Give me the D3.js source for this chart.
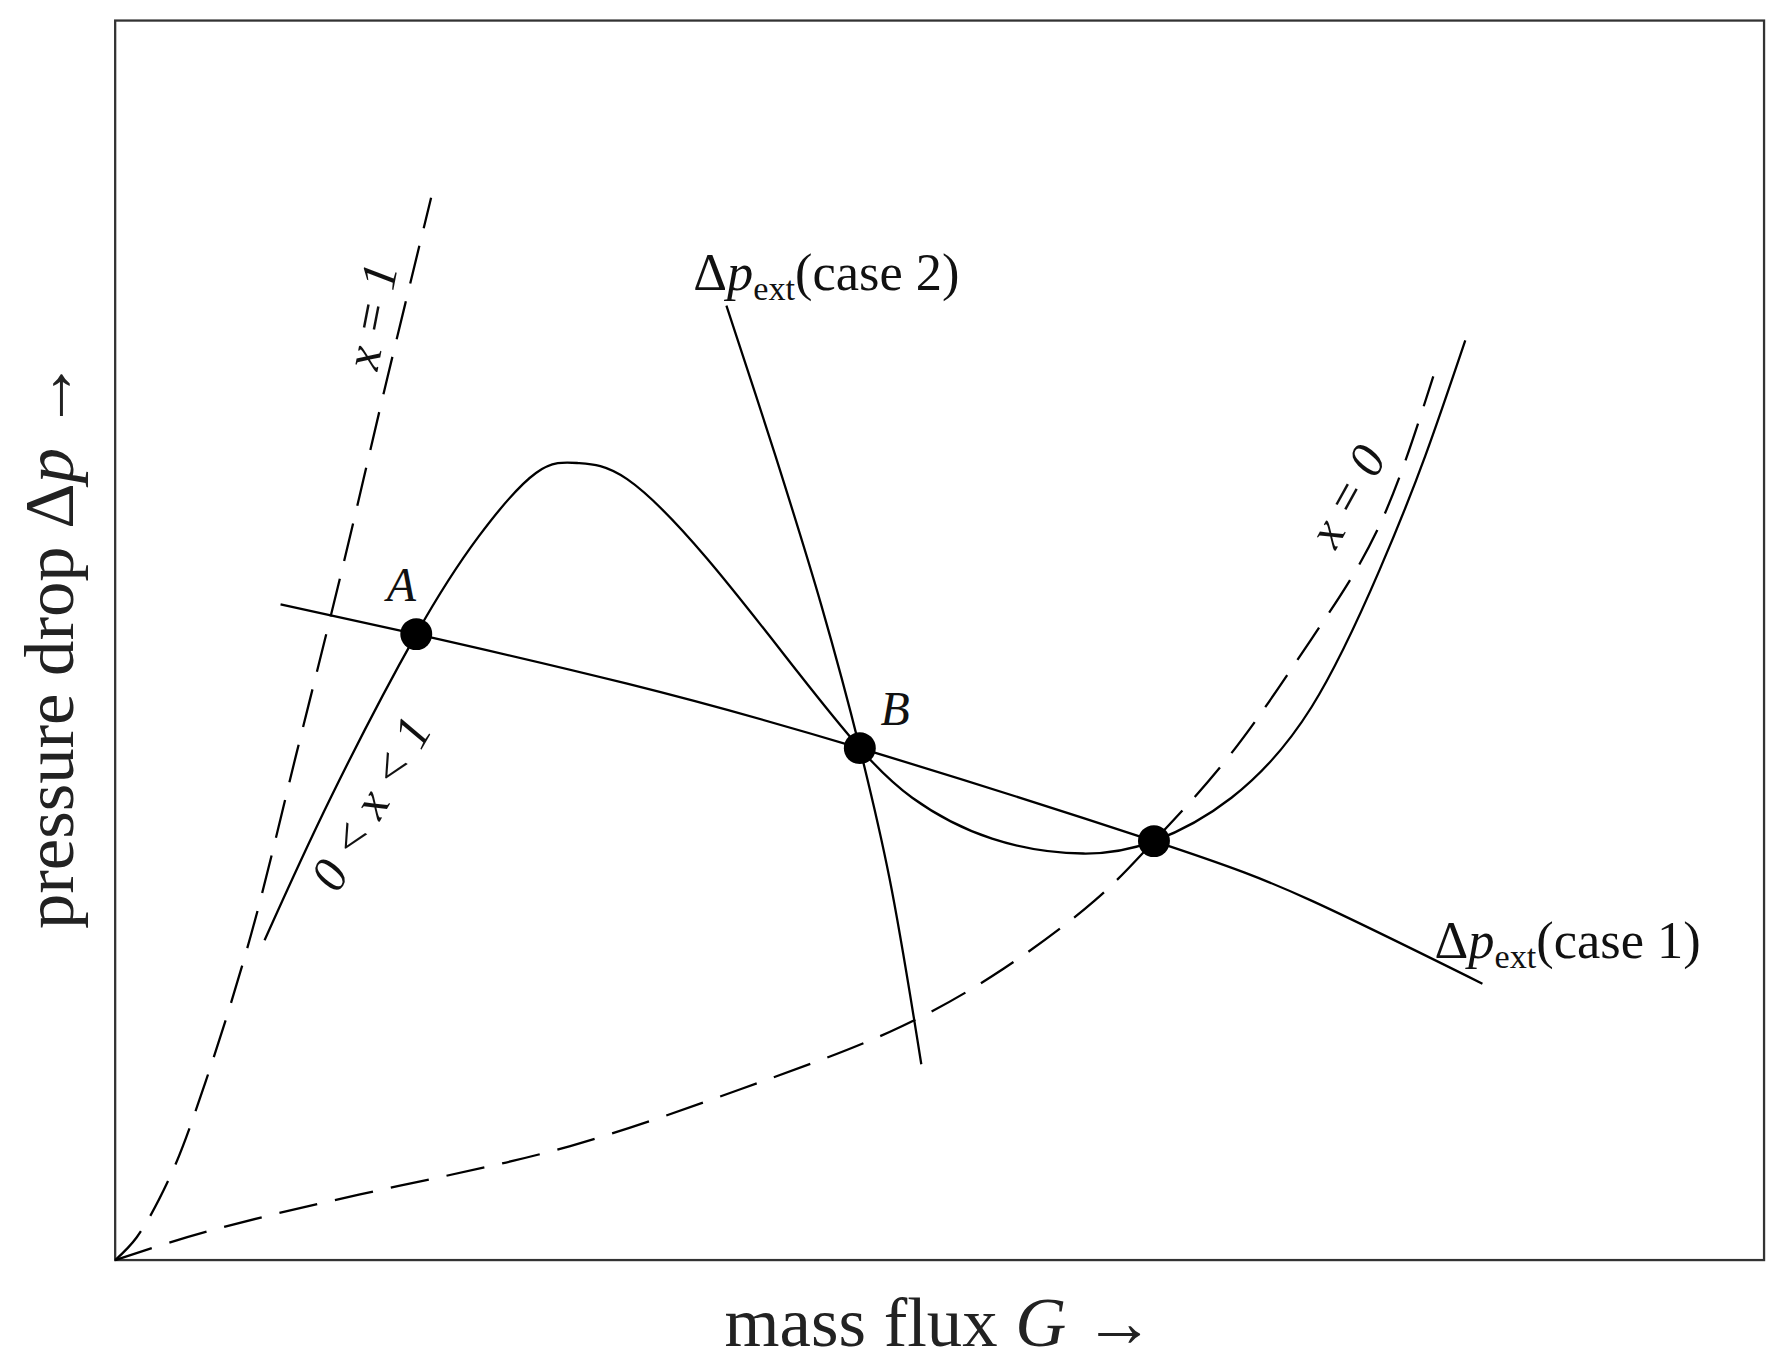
<!DOCTYPE html>
<html><head><meta charset="utf-8">
<script src="https://cdn.jsdelivr.net/npm/d3@7"></script>
<style>body{margin:0;background:#fff}</style></head>
<body><div id="chart"></div>
<script>
// curves, G and Δp in arbitrary units (0..100)
const flowCurve = [[9.06,25.8],[13.07,37.3],[18.26,50.5],[22.06,58.4],[25.52,63.5],[28.08,64.3],[31.05,63.0],[35.89,56.6],[41.42,47.4],[45.16,41.3],[48.34,37.3],[53.18,34.0],[58.71,32.8],[63.0,33.8],[67.7,37.3],[72.55,44.6],[76.69,55.7],[79.46,64.9],[81.88,74.2]];
const vapourCurve = [[0,0],[1.31,1.84],[3.39,6.9],[5.46,14.3],[8.23,26.2],[11.0,40.9],[13.76,55.7],[16.53,71.3],[19.16,85.7]];
const liquidCurve = [[0,0],[6.85,2.76],[17.2,5.98],[27.6,9.2],[37.96,13.8],[46.96,18.4],[53.87,23.5],[59.4,29.0],[63.0,33.8],[67.7,40.9],[72.55,50.1],[76.69,59.3],[79.94,71.3]];
const ext1 = [[10.03,52.9],[18.26,50.5],[31.05,46.5],[45.16,41.3],[63.0,33.8],[72.55,29.0],[82.92,22.3]];
const ext2 = [[37.07,77.0],[40.04,64.9],[42.81,52.9],[45.16,41.3],[46.96,30.8],[48.89,15.8]];
const operatingPoints = [{name:'A',G:18.26,p:50.5},{name:'B',G:45.16,p:41.3},{name:'',G:63.0,p:33.8}];

const W = 1568, H = 1197;
const svg = d3.select('#chart').append('svg')
  .attr('width', 1788).attr('height', 1365)
  .attr('viewBox', `0 0 ${W} ${H}`);

const x = d3.scaleLinear().domain([0, 100]).range([101, 1547]);
const y = d3.scaleLinear().domain([0, 100]).range([1105, 18]);

svg.append('rect').attr('x', 101).attr('y', 18).attr('width', 1446).attr('height', 1087)
  .attr('fill', 'none').attr('stroke', '#333').attr('stroke-width', 2);

const draw = (pts, dashed, curve) => svg.append('path')
  .attr('d', d3.line().x(d => x(d[0])).y(d => y(d[1])).curve(curve || d3.curveCatmullRom)(pts))
  .attr('fill', 'none').attr('stroke', '#000').attr('stroke-width', 2)
  .attr('stroke-dasharray', dashed ? '34,16' : null);

draw(vapourCurve, true);
draw(liquidCurve, true, d3.curveNatural);
draw(flowCurve, false, d3.curveNatural);
draw(ext1, false, d3.curveNatural);
draw(ext2, false);

svg.selectAll('circle.op').data(operatingPoints).join('circle')
  .attr('cx', d => x(d.G)).attr('cy', d => y(d.p)).attr('r', 14).attr('fill', '#000');

const font = '"Liberation Serif", serif';
const txt = (s, tx, ty, size, rot, italic) => svg.append('text')
  .attr('transform', `translate(${tx},${ty}) rotate(${rot || 0})`)
  .attr('font-family', font).attr('font-size', size)
  .attr('font-style', italic ? 'italic' : 'normal')
  .attr('text-anchor', 'middle').attr('fill', '#111').text(s);

// axis titles
const xt = svg.append('text').attr('x', 824).attr('y', 1180).attr('text-anchor', 'middle')
  .attr('font-family', font).attr('font-size', 62).attr('fill', '#222');
xt.append('tspan').text('mass flux ');
xt.append('tspan').attr('font-style', 'italic').text('G');
xt.append('tspan').text(' →');

const yt = svg.append('text').attr('transform', 'translate(64,565) rotate(-90)').attr('text-anchor', 'middle')
  .attr('font-family', font).attr('font-size', 62).attr('fill', '#222');
yt.append('tspan').text('pressure drop Δ');
yt.append('tspan').attr('font-style', 'italic').text('p');
yt.append('tspan').text(' →');

// point labels
txt('A', 352, 527, 42, 0, true);
txt('B', 785, 636, 42, 0, true);

// Δp_ext labels
const ext = (tx, ty, c) => {
  const t = svg.append('text').attr('x', tx).attr('y', ty).attr('font-family', font)
    .attr('font-size', 46).attr('fill', '#111');
  t.append('tspan').text('Δ');
  t.append('tspan').attr('font-style', 'italic').text('p');
  t.append('tspan').attr('font-size', 30).attr('dy', 9).text('ext');
  t.append('tspan').attr('dy', -9).text(`(case ${c})`);
};
ext(608, 254, 2);
ext(1258, 840, 1);

txt('x = 1', 340, 280, 44, -79, true);
txt('x = 0', 1194, 442, 44, -61, true);
txt('0 < x < 1', 338, 712, 44, -60, true);
</script></body></html>
